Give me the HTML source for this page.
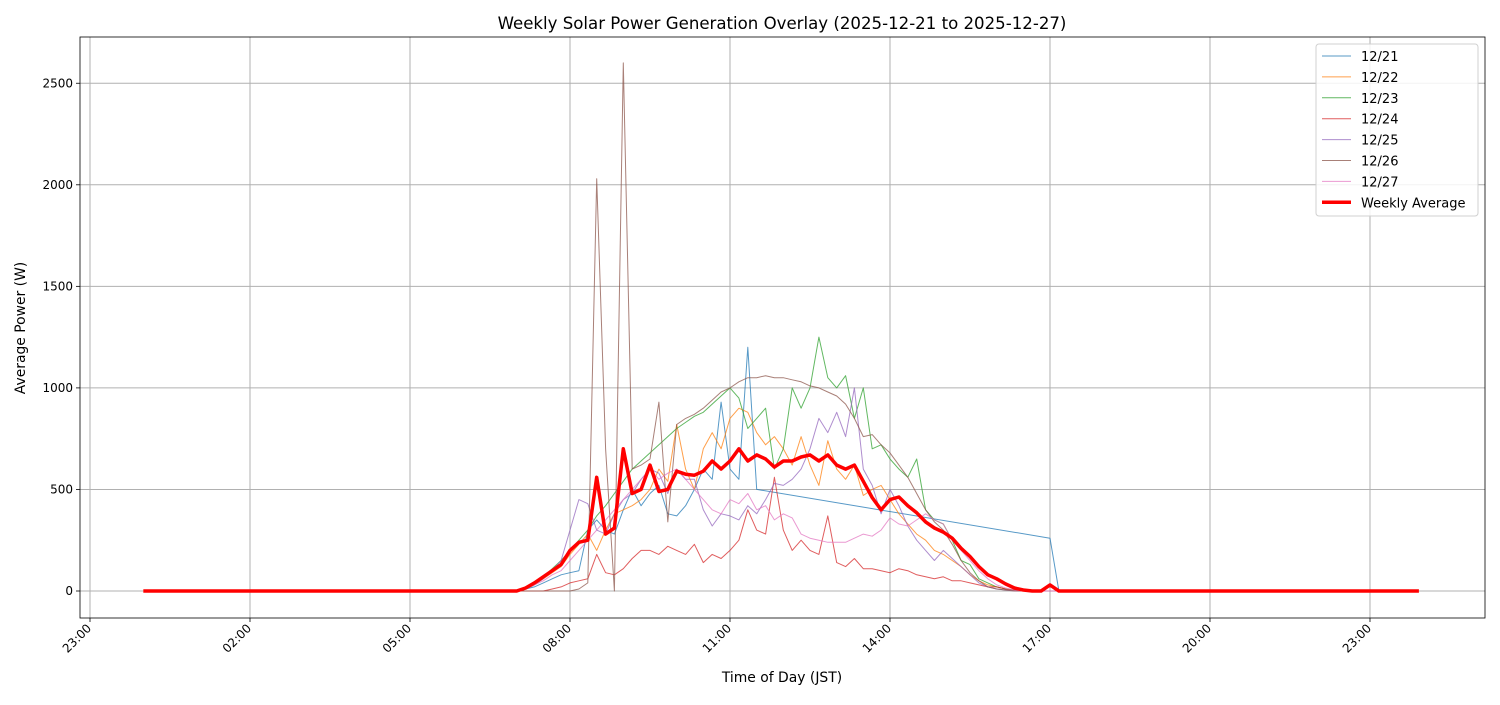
<!DOCTYPE html>
<html><head><meta charset="utf-8"><style>
body{margin:0;background:#fff;font-family:"Liberation Sans","DejaVu Sans",sans-serif}
svg text{font-family:"DejaVu Sans","Liberation Sans",sans-serif}
</style></head><body>
<svg id="c" width="1500" height="700" xmlns="http://www.w3.org/2000/svg"></svg>
<script>
const seriesLabels=["12/21","12/22","12/23","12/24","12/25","12/26","12/27"];
const seriesColors=["#1f77b4","#ff7f0e","#2ca02c","#d62728","#9467bd","#8c564b","#e377c2"];
const s1221=[0,10,20,40,60,80, 90,100,300,350,300,280, 400,500,420,480,520,380, 370,420,500,600,550,930, 600,550,1200,500,null,null, null,null,null,null,null,null, null,null,null,null,null,null, null,null,null,null,null,null, null,null,null,null,null,null, null,null,null,null,null,null, 260,0];
const s1222=[0,10,30,60,90,120, 180,230,280,200,300,380, 400,420,450,500,600,540, 820,600,500,700,780,700, 850,900,880,780,720,760, 700,620,760,620,520,740, 600,550,620,470,500,520, 450,380,330,280,250,200, 180,150,120,80,50,30, 20,10,5,0,0,0, 0,0];
const s1223=[0,15,40,70,110,150, 200,250,300,370,420,480, 540,600,640,680,720,760, 800,830,860,880,920,960, 1000,950,800,850,900,600, 700,1000,900,1000,1250,1050, 1000,1060,850,1000,700,720, 650,600,560,650,400,350, 330,250,150,130,60,40, 20,10,5,2,0,0, 0,0];
const s1224=[0,0,0,0,10,20, 40,50,60,180,90,80, 110,160,200,200,180,220, 200,180,230,140,180,160, 200,250,400,300,280,560, 300,200,250,200,180,370, 140,120,160,110,110,100, 90,110,100,80,70,60, 70,50,50,40,30,20, 20,10,5,0,0,0, 0,0];
const s1225=[0,10,30,60,100,150, 300,450,430,300,280,380, 450,480,550,600,580,480, 600,550,550,400,320,380, 370,350,420,380,450,530, 520,550,600,700,850,780, 880,760,1000,600,520,380, 500,420,320,250,200,150, 200,160,120,80,40,20, 10,5,0,0,0,0, 0,0];
const s1226=[0,0,0,0,0,0, 0,10,40,2030,700,0, 2600,600,620,650,930,340, 820,850,870,900,940,980, 1000,1030,1050,1050,1060,1050, 1050,1040,1030,1010,1000,980, 960,920,850,760,770,720, 680,620,560,480,400,340, 300,230,150,90,50,20, 10,5,0,0,0,0, 0,0];
const s1227=[0,10,30,50,80,100, 150,200,250,300,350,400, 450,500,550,600,550,580, 600,550,500,450,400,380, 450,430,480,400,420,350, 380,360,280,260,250,240, 240,240,260,280,270,300, 360,330,320,350,380,350, 330,250,200,150,100,60, 30,15,5,0,0,0, 0,0];
const weeklyAvg=[0,15,40,70,100,130, 200,240,250,560,280,310, 700,480,500,620,490,500, 590,575,570,590,640,600, 640,700,640,670,650,610, 640,640,660,670,640,670, 620,600,620,540,460,400, 450,463,420,385,340,310, 290,260,210,170,120,80, 60,35,15,5,0,0, 30,0];
const yTicks=[0,500,1000,1500,2000,2500];
const xTickHours=[-1,2,5,8,11,14,17,20,23];
const xTickLabels=["23:00","02:00","05:00","08:00","11:00","14:00","17:00","20:00","23:00"];
const startHour=7, stepHours=1/6;

const NS="http://www.w3.org/2000/svg";
const svg=document.getElementById('c');
const L=80,R=1485,T=37,B=618;
const xS=h=>90+(h+1)*53.333;
const yS=v=>591-v*0.2031;
function el(t,a,p){const e=document.createElementNS(NS,t);for(const k in a)e.setAttribute(k,a[k]);(p||svg).appendChild(e);return e;}
el('rect',{x:0,y:0,width:1500,height:700,fill:'#fff'});
const grid=el('g',{});


xTickHours.forEach((h,i)=>{
  const x=xS(h);
  el('line',{x1:x,x2:x,y1:T,y2:B,stroke:'#b0b0b0','stroke-width':1},grid);
  el('line',{x1:x,x2:x,y1:B,y2:B+4,stroke:'#000','stroke-width':0.8});
  const ax=x+2, ay=B+11;
  const t=el('text',{x:ax,y:ay,'font-size':12,'text-anchor':'end',transform:`rotate(-45 ${ax} ${ay})`});
  t.textContent=xTickLabels[i];
  
  
});
yTicks.forEach(v=>{
  const y=yS(v);
  el('line',{x1:L,x2:R,y1:y,y2:y,stroke:'#b0b0b0','stroke-width':1},grid);
  el('line',{x1:L-4,x2:L,y1:y,y2:y,stroke:'#000','stroke-width':0.8});
  const t=el('text',{x:L-7,y:y+4,'font-size':12,'text-anchor':'end'});
  t.textContent=v;
  
  
});
const allSeries=[s1221,s1222,s1223,s1224,s1225,s1226,s1227];
allSeries.forEach((s,si)=>{
  let d='',pen=false;
  s.forEach((v,i)=>{ if(v===null)return; const x=xS(startHour+i*stepHours),y=yS(v); d+=(pen?'L':'M')+x.toFixed(1)+','+y.toFixed(1); pen=true;});
  const p=el('path',{d:d,fill:'none',stroke:seriesColors[si],'stroke-width':1,opacity:0.75,'stroke-linejoin':'round'});
  
  
});
let d='M'+xS(0)+','+yS(0);
weeklyAvg.forEach((v,i)=>{d+='L'+xS(startHour+i*stepHours).toFixed(1)+','+yS(v).toFixed(1);});
d+='L'+xS(23+55/60).toFixed(1)+','+yS(0);
const avg=el('path',{d:d,fill:'none',stroke:'#ff0000','stroke-width':3.5,'stroke-linejoin':'round'});


const frame=el('rect',{x:L,y:T,width:R-L,height:B-T,fill:'none',stroke:'#000','stroke-width':0.8});


const title=el('text',{x:782,y:29,'font-size':16.6,'text-anchor':'middle'});
title.textContent='Weekly Solar Power Generation Overlay (2025-12-21 to 2025-12-27)';


const xt=el('text',{x:782,y:682,'font-size':13.9,'text-anchor':'middle'});
xt.textContent='Time of Day (JST)';


const yt=el('text',{x:25,y:328,'font-size':13.9,'text-anchor':'middle',transform:'rotate(-90 25 328)'});
yt.textContent='Average Power (W)';


const lg=el('g',{});


el('rect',{x:1316,y:44,width:162,height:172,rx:3,fill:'#fff','fill-opacity':0.85,stroke:'#d0d0d0'},lg);
const names=seriesLabels.concat(['Weekly Average']);
names.forEach((n,i)=>{
  const y=56+i*20.9;
  const last=i===names.length-1;
  el('line',{x1:1322,x2:1351,y1:y,y2:y,stroke:last?'#ff0000':seriesColors[i],'stroke-width':last?3.5:1,opacity:last?1:0.75},lg);
  const t=el('text',{x:1361,y:y+5,'font-size':13},lg);
  t.textContent=n;
  
  
});
</script>
</body></html>
